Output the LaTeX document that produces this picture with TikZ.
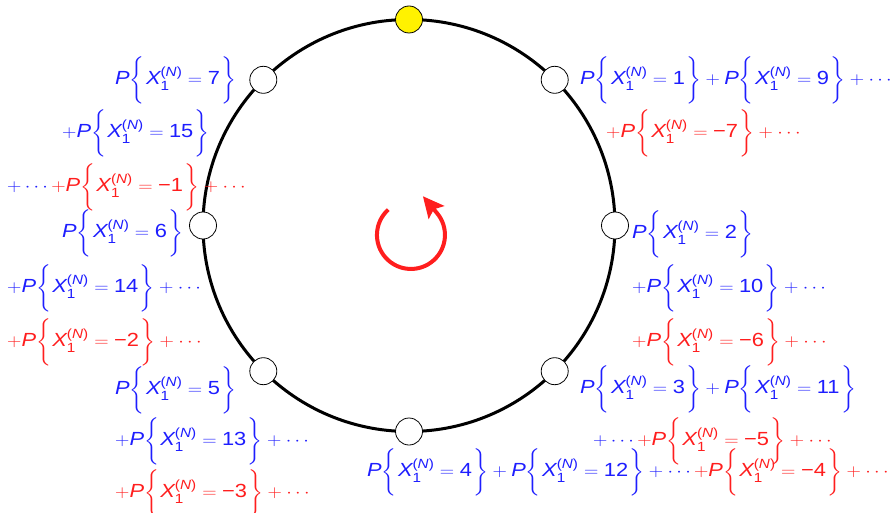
\documentclass[tikz,border=0pt]{standalone}
\usepackage{amsmath}
\usepackage{graphicx}
\usepackage{fontspec}
\setmainfont{Liberation Sans}
\usetikzlibrary{arrows.meta}
\definecolor{myblue}{RGB}{30,30,255}
\definecolor{myred}{RGB}{255,30,30}
\delimitershortfall=0pt
\delimiterfactor=1000
\newcommand\lbr{\mathopen{\scalebox{1}[1.14]{$\left\{\vrule height 21pt depth 12pt width 0pt\right.$}}}
\newcommand\rbr{\mathclose{\scalebox{1}[1.14]{$\left.\vrule height 21pt depth 12pt width 0pt\right\}$}}}
\newcommand\PX[1]{\textit{P}\lbr\textit{X}_{\text{1}}^{\text{(}\textit{N}\text{)}}=\text{#1}\rbr}
\newcommand\sx[1]{\scalebox{1.15}[1]{#1}}
\tikzset{
  lbl/.style={font=\fontsize{19}{22}\selectfont, inner sep=0pt, anchor=west},
  dot/.style={circle, draw=black, line width=0.8pt, fill=white, minimum size=27pt, inner sep=0pt},
}
\begin{document}
\begin{tikzpicture}[x=1pt,y=-1pt]
\useasboundingbox (0,0) rectangle (896,513);
\fill[white] (0,0) rectangle (896,513);
\coordinate (c) at (409,225.5);
\draw[line width=3pt] (c) circle[radius=206];
\node[dot, fill=yellow] (n0) at (409,19.5) {};
\node[dot] (n1) at (554.7,79.8) {};
\node[dot] (n2) at (615,225.5) {};
\node[dot] (n3) at (554.7,371.2) {};
\node[dot] (n4) at (409,431.5) {};
\node[dot] (n5) at (263.3,371.2) {};
\node[dot] (n6) at (203,225.5) {};
\node[dot] (n7) at (263.3,79.8) {};
% rotation arrow
\coordinate (as) at (388.2,209.7);
\draw[myred, line width=4pt, -{Stealth[length=21pt,width=20pt,inset=4pt]}] (as) arc[start angle=-132, end angle=-400, radius=34] -- ++(-14.1,-16.9);
% right side
\node[lbl, text=myblue] (t1) at (580,80) {\sx{$\PX{1}+\PX{9}+\cdots$}};
\node[lbl, text=myred] (t2) at (606,133) {\sx{$+\PX{−7}+\cdots$}};
\node[lbl, text=myblue] (t3) at (632,234) {\sx{$\PX{2}$}};
\node[lbl, text=myblue] (t4) at (632,288) {\sx{$+\PX{10}+\cdots$}};
\node[lbl, text=myred] (t5) at (632,342) {\sx{$+\PX{−6}+\cdots$}};
\node[lbl, text=myblue] (t6) at (580,389) {\sx{$\PX{3}+\PX{11}$}};
\node[lbl] (t7) at (593,441) {\sx{\textcolor{myblue}{$+\cdots$}\textcolor{myred}{$+\PX{−5}+\cdots$}}};
\node[lbl] (t8) at (367,472) {\sx{\textcolor{myblue}{$\PX{4}+\PX{12}+\cdots$}\textcolor{myred}{$+\PX{−4}+\cdots$}}};
% left side
\node[lbl, text=myblue] (t9) at (115,80) {\sx{$\PX{7}$}};
\node[lbl, text=myblue] (t10) at (62,133) {\sx{$+\PX{15}$}};
\node[lbl] (t11) at (7,187) {\sx{\textcolor{myblue}{$+\cdots$}\textcolor{myred}{$+\PX{−1}+\cdots$}}};
\node[lbl, text=myblue] (t12) at (62,233) {\sx{$\PX{6}$}};
\node[lbl, text=myblue] (t13) at (7,288) {\sx{$+\PX{14}+\cdots$}};
\node[lbl, text=myred] (t14) at (7,342) {\sx{$+\PX{−2}+\cdots$}};
\node[lbl, text=myblue] (t15) at (115,390) {\sx{$\PX{5}$}};
\node[lbl, text=myblue] (t16) at (115,441) {\sx{$+\PX{13}+\cdots$}};
\node[lbl, text=myred] (t17) at (115,493) {\sx{$+\PX{−3}+\cdots$}};
\end{tikzpicture}
\end{document}
